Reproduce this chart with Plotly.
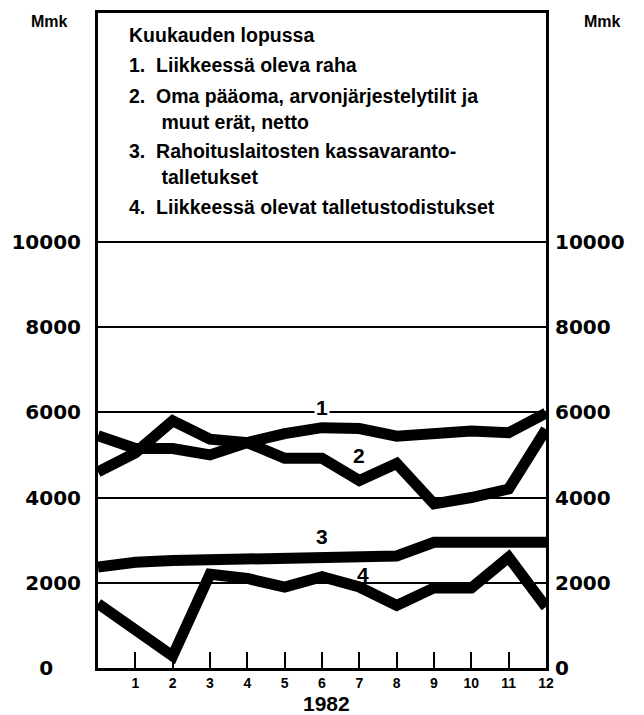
import plotly.graph_objects as go

# months 0..12 (0 = end of previous year)
months = list(range(13))
month_labels = ['1', '2', '3', '4', '5', '6', '7', '8', '9', '10', '11', '12']

# Mmk
s1_raha = [5450, 5150, 5150, 5000, 5290, 5500, 5640, 5620, 5440, 5520, 5560, 5520, 5980]
s2_oma = [4600, 5050, 5800, 5370, 5290, 4920, 4920, 4400, 4800, 3850, 4000, 4200, 5600]
s3_kassa = [2370, 2480, 2520, 2540, 2570, 2590, 2610, 2620, 2630, 2950, 2960, 2960, 2950]
s4_todistus = [1510, 890, 280, 2200, 2100, 1900, 2140, 1900, 1470, 1880, 1880, 2600, 1430]

ytick_vals = [0, 2000, 4000, 6000, 8000, 10000]
ytick_text = ['0', '2000', '4000', '6000', '8000', '10000']
ytick_text_left = ['0\u00a0\u00a0\u00a0\u00a0', '2000', '4000', '6000', '8000', '10000']

legend_lines = [
    'Kuukauden lopussa',
    '1.  Liikkeessä oleva raha',
    '2.  Oma pääoma, arvonjärjestelytilit ja',
    '      muut erät, netto',
    '3.  Rahoituslaitosten kassavaranto-',
    '      talletukset',
    '4.  Liikkeessä olevat talletustodistukset',
]

FONT = 'Liberation Sans, Arial, sans-serif'
NUMFONT = 'DejaVu Sans, sans-serif'
W, H = 644, 715
OFF = 8  # page body margin
L, R, T, B = 90, 106, 2, 55
ytop = 15370

fig = go.Figure()
for ys in [s1_raha, s2_oma, s3_kassa, s4_todistus]:
    fig.add_scatter(x=months, y=ys, mode='lines',
                    line=dict(color='black', width=11), showlegend=False)
# dummy trace for right axis
fig.add_scatter(x=[0], y=[0], yaxis='y2', mode='markers',
                marker=dict(opacity=0), showlegend=False, hoverinfo='skip')

axfont = dict(family=NUMFONT, size=20, color='black', weight='bold')
fig.update_layout(
    width=W, height=H,
    margin=dict(l=L, r=R, t=T, b=B),
    paper_bgcolor='white', plot_bgcolor='white',
    xaxis=dict(range=[0, 12], tickvals=months[1:], ticktext=month_labels,
               ticks='inside', ticklen=16, tickwidth=2, tickcolor='black',
               showgrid=False, zeroline=False,
               showline=True, linecolor='black', linewidth=3, mirror=True,
               tickfont=dict(family=FONT, size=14, color='black', weight='bold')),
    yaxis=dict(range=[0, ytop], tickvals=ytick_vals, ticktext=ytick_text_left,
               ticks='outside', ticklen=10, tickcolor='rgba(0,0,0,0)',
               showgrid=True, gridcolor='black', gridwidth=2, zeroline=False,
               showline=True, linecolor='black', linewidth=3, mirror=True,
               tickfont=axfont),
    yaxis2=dict(range=[0, ytop], tickvals=ytick_vals, ticktext=ytick_text,
                overlaying='y', side='right',
                ticks='outside', ticklen=4, tickcolor='rgba(0,0,0,0)',
                showgrid=False, zeroline=False, showline=False,
                tickfont=axfont),
)

def px_x(x):
    return (x - OFF - L) / (W - L - R)

def px_y(y):
    return (H - B - (y - OFF)) / (H - B - T)

for xx in [49, 602]:
    fig.add_annotation(text='Mmk', xref='paper', yref='paper',
                       x=px_x(xx), y=px_y(19), xanchor='center', yanchor='middle',
                       showarrow=False,
                       font=dict(family=FONT, size=16, color='black', weight='bold'))

leg_y = [32, 62, 93, 119, 149, 175, 205]
for txt, yy in zip(legend_lines, leg_y):
    fig.add_annotation(text=txt, xref='paper', yref='paper',
                       x=px_x(127), y=px_y(yy), xanchor='left', yanchor='middle',
                       showarrow=False,
                       font=dict(family=FONT, size=19.5, color='black', weight='bold'))

# series labels
for lab, mx, val in [('1', 6, 6120), ('2', 7, 4980), ('3', 6, 3080), ('4', 7.1, 2200)]:
    fig.add_annotation(text=lab, x=mx, y=val, showarrow=False,
                       xanchor='center', yanchor='middle',
                       bgcolor='white' if lab == '1' else 'rgba(0,0,0,0)',
                       borderpad=1,
                       font=dict(family=FONT, size=21, color='black', weight='bold'))

fig.add_annotation(text='1982', xref='x', yref='paper', x=6.13, y=px_y(704),
                   xanchor='center', yanchor='middle', showarrow=False,
                   font=dict(family=FONT, size=21, color='black', weight='bold'))

fig.write_html('out.html')
